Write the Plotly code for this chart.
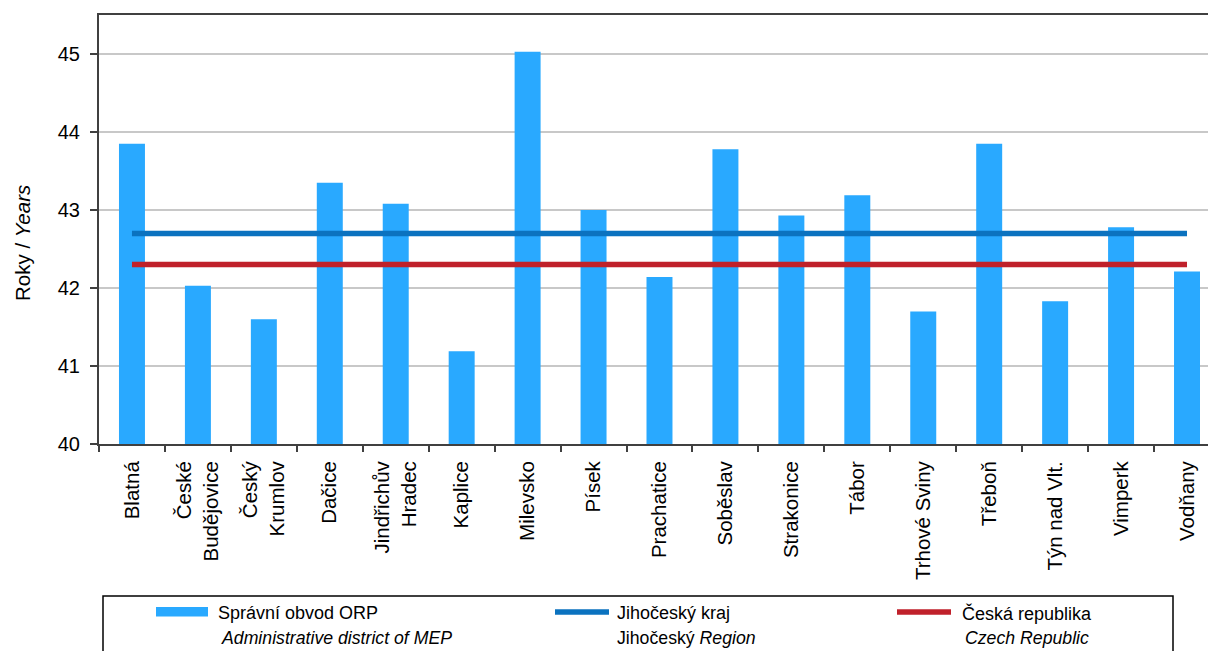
import plotly.graph_objects as go

# ---------------- data ----------------
categories = ["Blatná", "České<br>Budějovice", "Český<br>Krumlov", "Dačice",
              "Jindřichův<br>Hradec", "Kaplice", "Milevsko", "Písek", "Prachatice",
              "Soběslav", "Strakonice", "Tábor", "Trhové Sviny", "Třeboň",
              "Týn nad Vlt.", "Vimperk", "Vodňany"]
orp_values = [43.85, 42.03, 41.60, 43.35, 43.08, 41.19, 45.03, 43.00, 42.14,
              43.78, 42.93, 43.19, 41.70, 43.85, 41.83, 42.78, 42.21]
region_value = 42.70
czech_value = 42.30

y_ticks = [40, 41, 42, 43, 44, 45]
legend_line1 = ["Správní obvod ORP", "Jihočeský kraj", "Česká republika"]
legend_line2 = ["<i>Administrative district of MEP</i>", "Jihočeský <i>Region</i>",
                "<i>Czech Republic</i>"]
y_title = "Roky / <i>Years</i>"

# ---------------- styling ----------------
BAR = "#29a9ff"
BLUE = "#0b72bf"
RED = "#c0212b"
AXIS = "#404040"
FONT = "Liberation Sans, Arial, sans-serif"

W, H = 1208, 651
ML, MR, MT, MB = 99, 0, 15, 207
PW = W - ML - MR
PH = H - MT - MB


def px_x(px):
    return (px - ML) / PW


def px_y(py):
    return (H - MB - py) / PH


fig = go.Figure()
fig.add_trace(go.Bar(x=categories, y=orp_values, marker=dict(color=BAR, line=dict(width=0)),
                     width=0.394, showlegend=False, base=0))
fig.add_trace(go.Scatter(x=categories, y=[region_value] * len(categories), mode="lines",
                         line=dict(color=BLUE, width=5.5), showlegend=False))
fig.add_trace(go.Scatter(x=categories, y=[czech_value] * len(categories), mode="lines",
                         line=dict(color=RED, width=5.5), showlegend=False))

n = len(categories)
cat_px = 65.94
x_max = (n - 0.5) - (ML + n * cat_px - W) / cat_px

fig.update_xaxes(
    type="category", range=[-0.5, x_max],
    showline=True, linecolor=AXIS, linewidth=2, mirror=True,
    ticks="outside", ticklen=6, tickwidth=1.5, tickcolor=AXIS, tickson="boundaries",
    tickangle=-90, tickfont=dict(family=FONT, size=20.5, color="black"),
    ticklabelstandoff=7,
    showgrid=False, zeroline=False,
)
fig.update_yaxes(
    range=[40, 45.5], tickvals=y_ticks,
    showline=True, linecolor=AXIS, linewidth=2, mirror=False,
    ticks="outside", ticklen=7, tickwidth=1.5, tickcolor=AXIS,
    tickfont=dict(family=FONT, size=20, color="black"),
    ticklabelstandoff=6,
    showgrid=True, gridcolor="#c8c8c8", gridwidth=1.5, zeroline=False,
)

shapes = []
annotations = []

# y axis title
annotations.append(dict(text=y_title, xref="paper", yref="paper", x=px_x(22), y=px_y(243),
                        xanchor="center", yanchor="middle", textangle=-90, showarrow=False,
                        font=dict(family=FONT, size=20.5, color="black")))

# legend box
shapes.append(dict(type="rect", xref="paper", yref="paper", x0=px_x(103), x1=px_x(1173),
                   y0=px_y(596), y1=px_y(670), line=dict(color="black", width=1.5),
                   fillcolor="rgba(0,0,0,0)", layer="above"))
# legend symbols
shapes.append(dict(type="rect", xref="paper", yref="paper", x0=px_x(156), x1=px_x(208),
                   y0=px_y(607), y1=px_y(616.5), line=dict(width=0), fillcolor=BAR))
for (x0, x1, col) in [(555, 609, BLUE), (897, 951, RED)]:
    shapes.append(dict(type="line", xref="paper", yref="paper", x0=px_x(x0), x1=px_x(x1),
                       y0=px_y(612), y1=px_y(612), line=dict(color=col, width=5.5)))
for tx, t1, t2, tx2 in [(216, legend_line1[0], legend_line2[0], 219),
                        (615, legend_line1[1], legend_line2[1], 615),
                        (960, legend_line1[2], legend_line2[2], 963)]:
    annotations.append(dict(text=t1, xref="paper", yref="paper", x=px_x(tx), y=px_y(613),
                            xanchor="left", yanchor="middle", showarrow=False,
                            font=dict(family=FONT, size=18, color="black")))
    annotations.append(dict(text=t2, xref="paper", yref="paper", x=px_x(tx2), y=px_y(638),
                            xanchor="left", yanchor="middle", showarrow=False,
                            font=dict(family=FONT, size=17.7, color="black")))

fig.update_layout(
    width=W, height=H, autosize=False,
    margin=dict(l=ML, r=MR, t=MT, b=MB, pad=0),
    paper_bgcolor="white", plot_bgcolor="white",
    shapes=shapes, annotations=annotations,
    font=dict(family=FONT, color="black"),
    showlegend=False,
)

fig.write_html("out.html", config={"displayModeBar": False},
               post_script="document.body.style.margin='0';document.body.style.overflow='hidden';")
